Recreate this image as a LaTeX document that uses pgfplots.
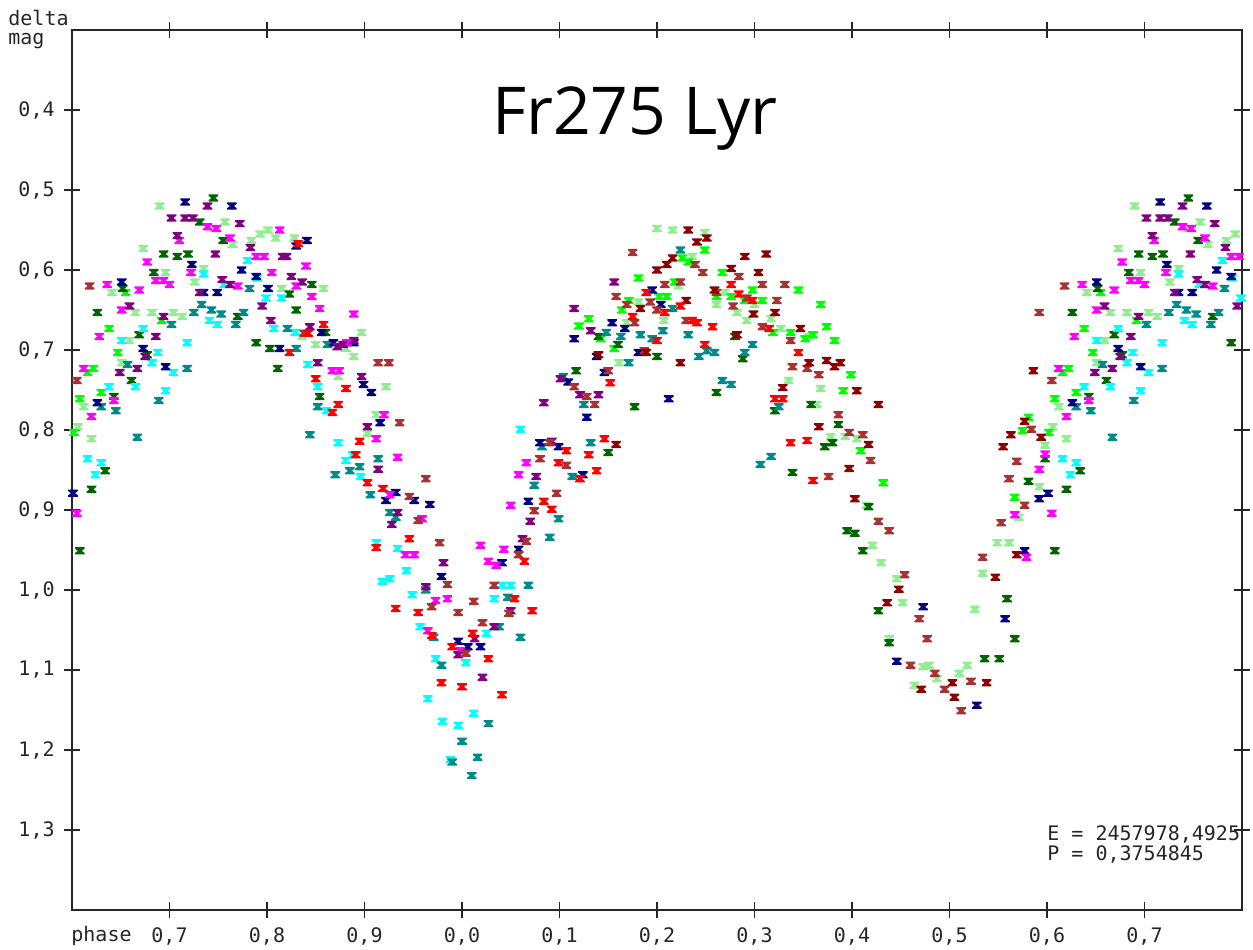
\documentclass[border=0pt]{standalone}
\usepackage{fontspec}
\usepackage{pgfplots}
\usepackage{pgfplotstable}
\pgfplotsset{compat=1.18}
\newfontfamily\monofam{DejaVu Sans Mono}
\newfontfamily\titlefam{Open Sans}
\newcommand{\mono}{\monofam\fontsize{10}{12}\selectfont}

\definecolor{cR}{HTML}{FF0000}
\definecolor{cBr}{HTML}{A83232}
\definecolor{cMr}{HTML}{8B0000}
\definecolor{cG}{HTML}{00FF00}
\definecolor{cLG}{HTML}{90EE90}
\definecolor{cDG}{HTML}{006400}
\definecolor{cB}{HTML}{000080}
\definecolor{cC}{HTML}{00FFFF}
\definecolor{cT}{HTML}{008B8B}
\definecolor{cM}{HTML}{FF00FF}
\definecolor{cP}{HTML}{800080}

\pgfdeclareplotmark{hglass}{%
  \pgfpathmoveto{\pgfqpoint{-2.4pt}{1.8pt}}%
  \pgfpathlineto{\pgfqpoint{2.4pt}{1.8pt}}%
  \pgfpathlineto{\pgfqpoint{2.4pt}{1.1pt}}%
  \pgfpathlineto{\pgfqpoint{1.0pt}{0pt}}%
  \pgfpathlineto{\pgfqpoint{2.4pt}{-1.1pt}}%
  \pgfpathlineto{\pgfqpoint{2.4pt}{-1.8pt}}%
  \pgfpathlineto{\pgfqpoint{-2.4pt}{-1.8pt}}%
  \pgfpathlineto{\pgfqpoint{-2.4pt}{-1.1pt}}%
  \pgfpathlineto{\pgfqpoint{-1.0pt}{0pt}}%
  \pgfpathlineto{\pgfqpoint{-2.4pt}{1.1pt}}%
  \pgfpathclose\pgfusepathqfill}

% phase (0..1) and delta mag
\pgfplotstableread{
x y
0.690 0.520
0.745 0.548
0.757 0.540
0.765 0.568
0.784 0.563
0.793 0.555
0.801 0.550
0.809 0.560
0.828 0.560
0.673 0.573
0.735 0.598
0.696 0.603
0.726 0.615
0.815 0.623
0.858 0.623
0.641 0.628
0.665 0.653
0.682 0.653
0.704 0.653
0.713 0.658
0.836 0.683
0.897 0.678
0.659 0.688
0.850 0.693
0.881 0.698
0.889 0.708
0.651 0.716
0.873 0.733
0.922 0.746
0.612 0.771
0.606 0.796
0.912 0.781
0.620 0.811
0.903 0.804
0.200 0.548
0.216 0.550
0.249 0.553
0.236 0.583
0.222 0.620
0.269 0.628
0.300 0.643
0.181 0.640
0.261 0.643
0.282 0.653
0.207 0.663
0.169 0.666
0.292 0.663
0.317 0.661
0.327 0.673
0.356 0.683
0.161 0.716
0.335 0.738
0.368 0.748
0.364 0.768
0.378 0.808
0.393 0.808
0.405 0.811
0.415 0.894
0.421 0.944
0.430 0.966
0.446 0.986
0.452 1.016
0.438 1.061
0.473 1.096
0.479 1.094
0.487 1.111
0.464 1.119
0.510 1.104
0.518 1.094
0.526 1.024
0.534 0.979
0.549 0.941
0.561 0.941
0.571 0.909
0.592 0.871
0.598 0.819
}\dLG

\pgfplotstableread{
x y
0.745 0.510
0.731 0.540
0.755 0.563
0.694 0.580
0.708 0.583
0.719 0.580
0.684 0.603
0.846 0.618
0.652 0.623
0.823 0.630
0.626 0.653
0.770 0.658
0.830 0.650
0.669 0.681
0.860 0.678
0.789 0.691
0.803 0.698
0.677 0.706
0.811 0.723
0.661 0.738
0.643 0.758
0.854 0.758
0.634 0.851
0.620 0.874
0.608 0.951
0.117 0.726
0.160 0.693
0.140 0.683
0.200 0.708
0.177 0.771
0.261 0.753
0.280 0.683
0.288 0.711
0.321 0.776
0.358 0.768
0.386 0.793
0.372 0.821
0.380 0.816
0.339 0.853
0.150 0.828
0.417 0.896
0.395 0.926
0.403 0.929
0.411 0.951
0.427 1.026
0.438 1.066
0.536 1.086
0.551 1.086
0.567 1.061
0.559 1.011
0.581 0.864
0.598 0.836
}\dDG

\pgfplotstableread{
x y
0.655 0.628
0.692 0.663
0.638 0.673
0.647 0.703
0.616 0.728
0.622 0.723
0.630 0.753
0.608 0.761
0.602 0.803
0.120 0.670
0.226 0.585
0.232 0.590
0.249 0.575
0.267 0.603
0.181 0.610
0.218 0.615
0.202 0.633
0.210 0.633
0.298 0.625
0.345 0.625
0.261 0.633
0.276 0.633
0.290 0.638
0.308 0.638
0.171 0.638
0.164 0.650
0.368 0.643
0.130 0.661
0.142 0.686
0.337 0.678
0.319 0.678
0.352 0.686
0.360 0.681
0.374 0.671
0.382 0.688
0.156 0.698
0.399 0.731
0.391 0.751
0.409 0.826
0.432 0.866
0.567 0.884
0.575 0.801
0.581 0.784
}\dG

\pgfplotstableread{
x y
0.716 0.515
0.764 0.520
0.841 0.563
0.830 0.570
0.723 0.593
0.774 0.600
0.789 0.608
0.801 0.623
0.651 0.615
0.735 0.628
0.749 0.628
0.856 0.678
0.868 0.691
0.889 0.691
0.813 0.698
0.673 0.698
0.696 0.721
0.899 0.743
0.907 0.753
0.626 0.766
0.916 0.791
0.922 0.888
0.932 0.878
0.951 0.888
0.967 0.893
0.979 0.983
0.996 1.064
0.601 0.879
0.006 1.071
0.019 1.071
0.058 0.949
0.041 0.966
0.128 0.784
0.080 0.816
0.099 0.821
0.124 0.856
0.068 0.889
0.115 0.686
0.109 0.740
0.195 0.625
0.204 0.643
0.154 0.666
0.167 0.673
0.181 0.703
0.138 0.708
0.146 0.728
0.212 0.761
0.473 1.021
0.446 1.089
0.528 1.144
0.557 1.036
0.577 0.951
0.592 0.886
}\dB

\pgfplotstableread{
x y
0.780 0.588
0.735 0.605
0.790 0.610
0.756 0.618
0.799 0.635
0.815 0.635
0.741 0.663
0.749 0.668
0.807 0.673
0.829 0.678
0.673 0.673
0.651 0.688
0.718 0.691
0.688 0.703
0.682 0.716
0.842 0.718
0.704 0.728
0.638 0.746
0.665 0.746
0.852 0.746
0.861 0.776
0.696 0.751
0.616 0.836
0.630 0.841
0.624 0.856
0.873 0.816
0.888 0.831
0.881 0.838
0.896 0.858
0.912 0.941
0.934 0.948
0.943 0.976
0.918 0.989
0.926 0.986
0.949 1.006
0.957 1.046
0.973 1.086
0.965 1.136
0.980 1.164
0.996 1.169
0.988 1.212
0.004 1.091
0.025 1.054
0.012 1.154
0.041 0.994
0.050 0.994
0.033 1.011
0.060 0.799
}\dC

\pgfplotstableread{
x y
0.782 0.623
0.733 0.643
0.743 0.650
0.753 0.655
0.725 0.653
0.776 0.653
0.702 0.668
0.768 0.668
0.821 0.673
0.830 0.698
0.862 0.693
0.657 0.718
0.718 0.723
0.630 0.771
0.645 0.776
0.689 0.763
0.852 0.771
0.667 0.809
0.844 0.806
0.885 0.851
0.870 0.856
0.895 0.846
0.914 0.836
0.906 0.881
0.926 0.903
0.932 0.909
0.963 1.000
0.971 1.059
0.979 1.094
0.990 1.215
0.027 1.167
0.000 1.189
0.016 1.209
0.010 1.232
0.038 1.046
0.068 0.994
0.047 1.009
0.060 1.059
0.125 0.768
0.082 0.821
0.113 0.858
0.074 0.869
0.099 0.911
0.090 0.934
0.104 0.733
0.224 0.575
0.216 0.648
0.148 0.678
0.163 0.683
0.183 0.681
0.195 0.686
0.206 0.676
0.232 0.681
0.251 0.701
0.259 0.703
0.243 0.708
0.298 0.693
0.290 0.703
0.171 0.716
0.267 0.738
0.276 0.743
0.325 0.771
0.317 0.833
0.306 0.843
0.132 0.816
}\dT

\pgfplotstableread{
x y
0.739 0.546
0.748 0.548
0.813 0.550
0.762 0.560
0.710 0.563
0.677 0.590
0.789 0.583
0.797 0.583
0.840 0.595
0.722 0.603
0.805 0.603
0.686 0.613
0.694 0.613
0.700 0.618
0.770 0.620
0.830 0.620
0.636 0.618
0.669 0.625
0.846 0.633
0.651 0.650
0.854 0.648
0.889 0.655
0.628 0.683
0.882 0.691
0.867 0.726
0.874 0.726
0.612 0.723
0.643 0.763
0.620 0.783
0.920 0.781
0.605 0.904
0.912 0.811
0.934 0.834
0.926 0.881
0.959 0.911
0.942 0.956
0.951 0.956
0.973 1.013
0.985 1.011
0.965 1.051
0.998 1.076
0.019 0.944
0.043 0.949
0.027 0.964
0.035 0.969
0.066 0.841
0.058 0.856
0.050 0.894
0.579 0.959
0.567 0.906
0.592 0.849
0.598 0.830
}\dM

\pgfplotstableread{
x y
0.739 0.520
0.702 0.535
0.716 0.535
0.724 0.535
0.772 0.542
0.708 0.557
0.783 0.572
0.747 0.580
0.816 0.583
0.820 0.583
0.825 0.608
0.754 0.612
0.762 0.618
0.836 0.615
0.731 0.628
0.659 0.645
0.694 0.658
0.795 0.645
0.804 0.663
0.844 0.671
0.686 0.683
0.872 0.696
0.878 0.693
0.889 0.688
0.675 0.708
0.667 0.723
0.852 0.716
0.649 0.728
0.897 0.733
0.903 0.796
0.914 0.849
0.934 0.903
0.928 0.918
0.981 0.966
0.963 0.996
0.996 1.081
0.013 1.061
0.021 1.109
0.033 1.046
0.050 1.026
0.084 0.766
0.092 0.814
0.076 0.858
0.070 0.914
0.062 0.936
0.115 0.648
0.101 0.736
0.121 0.756
0.156 0.615
0.132 0.676
0.140 0.756
}\dP

\pgfplotstableread{
x y
0.832 0.567
0.858 0.668
0.842 0.679
0.823 0.703
0.850 0.736
0.881 0.748
0.867 0.778
0.873 0.768
0.895 0.814
0.891 0.831
0.903 0.866
0.919 0.873
0.912 0.947
0.946 0.936
0.932 1.023
0.955 1.028
0.969 1.057
0.990 1.071
0.979 1.116
1.000 1.121
0.011 1.054
0.027 1.086
0.041 1.131
0.064 0.964
0.054 1.011
0.072 1.026
0.107 0.826
0.099 0.841
0.121 0.861
0.084 0.889
0.092 0.899
0.152 0.741
0.189 0.628
0.276 0.618
0.284 0.630
0.298 0.638
0.224 0.645
0.208 0.653
0.175 0.658
0.236 0.663
0.241 0.666
0.257 0.671
0.200 0.688
0.249 0.693
0.315 0.673
0.345 0.703
0.321 0.761
0.329 0.761
0.337 0.816
0.354 0.813
0.360 0.863
0.146 0.811
0.130 0.831
0.138 0.851
}\dR

\pgfplotstableread{
x y
0.618 0.620
0.914 0.716
0.925 0.716
0.605 0.738
0.838 0.679
0.936 0.791
0.963 0.861
0.946 0.883
0.955 0.913
0.977 0.941
0.985 0.993
0.969 1.021
0.996 1.028
0.004 1.079
0.021 1.041
0.058 0.956
0.033 0.994
0.012 1.014
0.048 1.029
0.090 0.816
0.080 0.836
0.107 0.844
0.097 0.879
0.074 0.901
0.066 0.939
0.115 0.746
0.175 0.578
0.239 0.593
0.247 0.603
0.284 0.608
0.224 0.615
0.208 0.618
0.158 0.633
0.261 0.628
0.308 0.618
0.331 0.618
0.292 0.635
0.323 0.638
0.169 0.643
0.193 0.640
0.200 0.650
0.278 0.645
0.177 0.666
0.230 0.663
0.308 0.671
0.337 0.688
0.187 0.701
0.339 0.721
0.354 0.723
0.366 0.731
0.150 0.726
0.128 0.758
0.136 0.768
0.386 0.781
0.397 0.803
0.411 0.806
0.419 0.838
0.376 0.858
0.427 0.914
0.438 0.926
0.454 0.981
0.469 1.036
0.477 1.061
0.460 1.094
0.485 1.104
0.495 1.124
0.522 1.114
0.512 1.151
0.534 0.959
0.553 0.916
0.577 0.894
0.561 0.861
0.569 0.839
0.584 0.799
0.592 0.653
}\dBr

\pgfplotstableread{
x y
0.232 0.550
0.241 0.565
0.251 0.560
0.216 0.585
0.210 0.593
0.200 0.600
0.290 0.583
0.312 0.580
0.276 0.598
0.304 0.603
0.259 0.625
0.183 0.648
0.230 0.638
0.299 0.655
0.321 0.653
0.282 0.681
0.347 0.673
0.189 0.703
0.224 0.716
0.356 0.716
0.374 0.713
0.382 0.721
0.388 0.716
0.140 0.706
0.329 0.747
0.405 0.751
0.427 0.768
0.366 0.796
0.417 0.818
0.397 0.848
0.403 0.886
0.158 0.818
0.448 0.999
0.436 1.016
0.471 1.124
0.503 1.116
0.538 1.116
0.505 1.134
0.547 0.984
0.569 0.956
0.555 0.821
0.563 0.806
0.577 0.789
0.594 0.809
0.586 0.726
}\dMr

\newcommand{\plotser}[2]{%
  \addplot[only marks, mark=hglass, color=#2] table[x=x,y=y] {#1};
  \addplot[only marks, mark=hglass, color=#2] table[x expr=\thisrow{x}+1, y=y] {#1};
}

\begin{document}
\begin{tikzpicture}
\begin{axis}[
  at={(0,0)}, anchor=south west,
  scale only axis, width=585pt, height=440pt,
  xmin=0.6, xmax=1.8, ymin=0.3, ymax=1.4, y dir=reverse,
  axis line style={line width=1pt, black!85},
  tick align=center, major tick length=8pt,
  tick style={line width=0.8pt, black!85},
  xtick={0.7,0.8,0.9,1.0,1.1,1.2,1.3,1.4,1.5,1.6,1.7},
  xticklabels={{0,7},{0,8},{0,9},{0,0},{0,1},{0,2},{0,3},{0,4},{0,5},{0,6},{0,7}},
  ytick={0.4,0.5,0.6,0.7,0.8,0.9,1.0,1.1,1.2,1.3},
  yticklabels={{0,4},{0,5},{0,6},{0,7},{0,8},{0,9},{1,0},{1,1},{1,2},{1,3}},
  ticklabel style={font=\mono, text=black!85, inner sep=0pt},
  xticklabel style={anchor=base, yshift=-12pt},
  yticklabel style={anchor=east, xshift=-4.5pt},
]
\plotser{\dLG}{cLG}
\plotser{\dG}{cG}
\plotser{\dDG}{cDG}
\plotser{\dC}{cC}
\plotser{\dT}{cT}
\plotser{\dB}{cB}
\plotser{\dM}{cM}
\plotser{\dP}{cP}
\plotser{\dBr}{cBr}
\plotser{\dMr}{cMr}
\plotser{\dR}{cR}
\end{axis}
\node[anchor=base west, inner sep=0pt, font=\mono, text=black!85] at (-32pt,442pt) {delta};
\node[anchor=base west, inner sep=0pt, font=\mono, text=black!85] at (-32pt,432.5pt) {mag};
\node[anchor=base west, inner sep=0pt, font=\mono, text=black!85] at (-0.5pt,-15.5pt) {phase};
\node[anchor=base west, inner sep=0pt, font=\mono, text=black!85] at (487.5pt,35pt) {E = 2457978,4925};
\node[anchor=base west, inner sep=0pt, font=\mono, text=black!85] at (487.5pt,25pt) {P = 0,3754845};
\node[anchor=base, inner sep=0pt, font=\titlefam\fontsize{33}{36}\selectfont] at (281.5pt,387.5pt) {Fr275 Lyr};
\pgfresetboundingbox
\path[use as bounding box] (-36pt,-19.5pt) rectangle (590.5pt,455pt);
\end{tikzpicture}
\end{document}
